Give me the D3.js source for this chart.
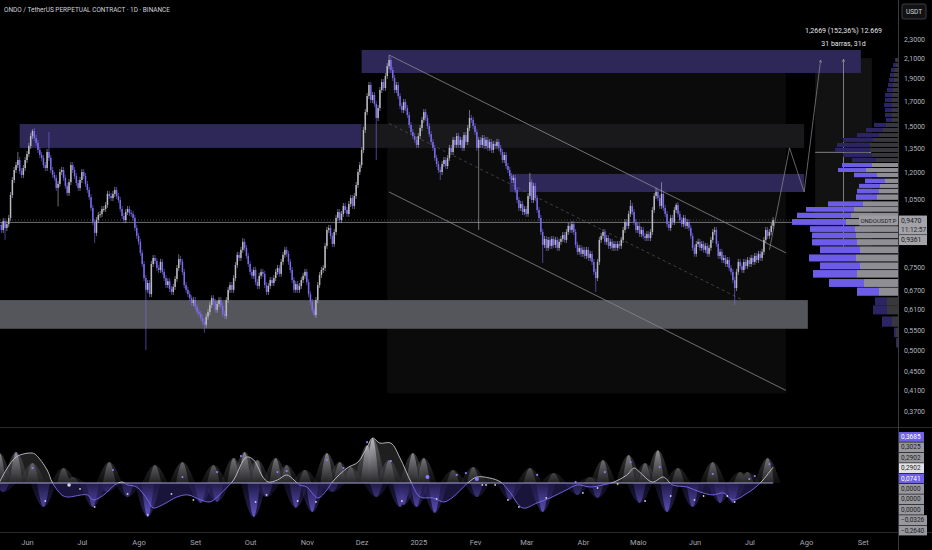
<!DOCTYPE html>
<html>
<head>
<meta charset="utf-8">
<script src="https://cdn.jsdelivr.net/npm/d3@7"></script>
<style>
html, body { margin: 0; background: #000; overflow: hidden; }
svg { display: block; font-family: Roboto, "DejaVu Sans", sans-serif; }
</style>
</head>
<body>
<svg id="chart" width="932" height="550"></svg>
<script>
// ---- data ----
const startDate = "2024-05-17";

// daily closes, ONDO/USDT perp (open = previous close)
const closes = [
  0.924,0.902,0.942,0.911,0.928,0.957,1.071,1.153,1.211,1.241,
  1.272,1.205,1.182,1.223,1.272,1.310,1.363,1.431,1.467,1.417,
  1.384,1.336,1.304,1.285,1.241,1.223,1.323,1.285,1.211,1.182,
  1.165,1.109,1.131,1.199,1.211,1.165,1.120,1.082,1.141,1.241,
  1.211,1.176,1.136,1.109,1.153,1.199,1.176,1.131,1.098,1.060,
  1.005,0.938,0.889,0.947,0.971,0.975,1.000,1.000,1.020,1.077,
  1.066,1.055,1.077,1.098,1.066,1.045,1.000,0.966,0.947,0.985,
  1.000,0.980,0.976,0.957,0.911,0.876,0.851,0.806,0.763,0.712,
  0.672,0.695,0.658,0.763,0.786,0.774,0.748,0.741,0.771,0.734,
  0.712,0.688,0.701,0.675,0.665,0.682,0.709,0.748,0.782,0.771,
  0.734,0.688,0.672,0.658,0.645,0.630,0.639,0.618,0.603,0.597,
  0.586,0.575,0.566,0.589,0.603,0.624,0.645,0.633,0.609,0.627,
  0.639,0.621,0.597,0.591,0.639,0.672,0.688,0.672,0.712,0.759,
  0.798,0.786,0.818,0.851,0.826,0.794,0.763,0.734,0.720,0.741,
  0.698,0.685,0.720,0.734,0.727,0.688,0.665,0.685,0.705,0.695,
  0.712,0.734,0.748,0.727,0.771,0.798,0.818,0.802,0.771,0.741,
  0.705,0.672,0.691,0.672,0.685,0.705,0.720,0.734,0.698,0.658,
  0.633,0.609,0.594,0.639,0.688,0.723,0.741,0.748,0.834,0.902,
  0.911,0.876,0.842,0.893,0.957,0.985,0.947,0.976,1.015,0.995,
  0.976,1.025,1.055,1.015,1.066,1.125,1.199,1.241,1.336,1.474,
  1.610,1.742,1.839,1.708,1.751,1.675,1.564,1.642,1.794,1.866,
  1.812,1.922,2.018,2.079,1.980,1.903,1.794,1.839,1.742,1.659,
  1.626,1.691,1.642,1.587,1.511,1.460,1.431,1.404,1.370,1.431,
  1.489,1.549,1.610,1.564,1.503,1.445,1.390,1.350,1.285,1.247,
  1.211,1.199,1.247,1.272,1.235,1.285,1.350,1.323,1.404,1.370,
  1.431,1.370,1.404,1.350,1.438,1.390,1.489,1.564,1.549,1.503,
  1.460,1.350,1.404,1.370,1.417,1.363,1.404,1.350,1.390,1.336,
  1.377,1.363,1.390,1.350,1.323,1.272,1.304,1.235,1.211,1.176,
  1.153,1.165,1.098,1.045,1.005,1.025,0.985,1.000,0.976,1.066,
  1.141,1.045,1.120,1.055,0.995,0.957,0.893,0.838,0.863,0.826,
  0.859,0.834,0.863,0.838,0.859,0.826,0.851,0.863,0.880,0.859,
  0.893,0.920,0.902,0.928,0.893,0.838,0.810,0.826,0.802,0.818,
  0.794,0.818,0.786,0.802,0.771,0.734,0.712,0.771,0.859,0.876,
  0.893,0.851,0.867,0.834,0.851,0.826,0.842,0.826,0.842,0.834,
  0.859,0.902,0.938,0.920,0.976,1.015,0.985,0.938,0.902,0.920,
  0.884,0.902,0.876,0.867,0.884,0.867,0.893,0.995,1.066,1.087,
  1.055,1.015,1.077,1.005,0.976,0.928,0.911,0.957,0.938,0.995,
  1.020,0.976,0.947,0.928,0.957,0.920,0.938,0.911,0.876,0.826,
  0.802,0.842,0.851,0.826,0.842,0.818,0.834,0.802,0.826,0.859,
  0.893,0.902,0.842,0.794,0.810,0.778,0.786,0.763,0.778,0.748,
  0.734,0.705,0.678,0.734,0.771,0.755,0.741,0.771,0.755,0.778,
  0.763,0.786,0.771,0.794,0.778,0.802,0.786,0.810,0.859,0.902,
  0.876,0.893,0.920,0.947
];

// long wicks: [day, high, low]
const wicks = [
  [3,null,0.859],[10,1.323,null],[18,1.48,null],[27,1.46,null],[32,null,1.013],
  [52,null,0.846],[80,null,0.50],[98,0.80,null],[112,null,0.544],[133,0.867,null],
  [172,null,0.59],[206,null,1.272],[213,2.13,null],[241,null,1.153],[257,1.626,null],
  [262,null,0.902],[290,1.194,null],[297,null,0.767],[326,null,0.665],[345,1.045,null],
  [359,1.11,null],[362,1.14,null],[370,1.03,null],[402,null,0.624]
];

const lastPrice = 0.947;
const levelLine = 0.9361;

const priceTicks = [2.3,2.1,1.9,1.7,1.5,1.35,1.2,1.05,0.75,0.67,0.61,0.55,0.5,0.45,0.41,0.37];

const monthDates = ["2024-06-01","2024-07-01","2024-08-01","2024-09-01","2024-10-01","2024-11-01","2024-12-01",
  "2025-01-01","2025-02-01","2025-03-01","2025-04-01","2025-05-01","2025-06-01","2025-07-01","2025-08-01","2025-09-01"];
const monthNames = ["Jun","Jul","Ago","Set","Out","Nov","Dez","2025","Fev","Mar","Abr","Maio","Jun","Jul","Ago","Set"];

const zones = [
  { from: "2024-12-01", to: "2025-08-31", top: 2.184, bottom: 1.951, kind: "supply" },
  { from: "2024-05-28", to: "2024-12-01", top: 1.518, bottom: 1.350, kind: "supply" },
  { from: "2024-12-01", to: "2025-07-31", top: 1.518, bottom: 1.350, kind: "mitigated" },
  { from: "2025-02-20", to: "2025-07-31", top: 1.188, bottom: 1.087, kind: "supply" },
  { from: "2024-05-16", to: "2025-08-02", top: 0.639, bottom: 0.555, kind: "support" }
];

const channelBox = { from: "2024-12-15", to: "2025-07-21", top: 1.951, bottom: 0.404 };
const channel = { from: "2024-12-16", to: "2025-07-21", upper: [2.131, 0.806], lower: [1.087, 0.410] };

const projection = [["2025-07-12",0.818],["2025-07-23",1.350],["2025-07-31",1.087],["2025-08-09",2.079]];

const measure = { from: "2025-08-06", to: "2025-09-06", low: 0.8315, high: 2.0984, tick: 0.0001 };

// visible range volume profile: row mid price, total volume, up (grey) part
const vpPrice = [0.518,0.545,0.575,0.609,0.635,0.666,0.695,0.727,0.756,0.786,0.818,0.849,0.878,0.906,0.938,
  0.969,0.998,1.025,1.06,1.092,1.12,1.148,1.182,1.211,1.241,1.272,1.304,1.336,1.370,1.404,1.438,1.474,
  1.511,1.549,1.587,1.626,1.667,1.708,1.751,1.794,1.839,1.885,1.932,1.980,2.029,2.079];
const vpTotal = [2,4,16,25,23,41,69,85,78,89,78,86,86,88,106,101,92,70,42,41,39,33,44,60,56,46,55,63,61,55,41,32,
  24,12,13,13,14,13,13,11,10,9,8,7,5,3];
const vpUp = [1,2,6,11,11,19,34,41,38,42,38,41,42,43,52,47,44,35,21,19,18,13,21,32,26,22,26,28,28,25,19,15,
  12,6,6,6,6,6,6,5,5,4,4,3,2,2];
const valueArea = [0.65, 1.26];

// oscillator: smoothed line [day, value]
const oscLine = [[0,0.008],[9,0.213],[18,0.246],[20,0.230],[26,0.107],[29,0],[34,-0.098],[37,-0.115],[48,-0.098],
  [51,-0.139],[57,-0.098],[63,-0.016],[67,0.008],[70,-0.016],[75,-0.033],[81,-0.139],[84,-0.205],[89,-0.180],
  [97,-0.115],[103,-0.098],[110,-0.139],[115,-0.156],[119,-0.115],[124,-0.041],[128,0.025],[135,0.213],[139,0.189],
  [144,0.049],[147,0.008],[152,0.025],[157,0.066],[161,0.025],[164,-0.016],[168,-0.033],[174,-0.123],[179,-0.057],
  [182,0.008],[190,0.123],[196,0.172],[201,0.295],[204,0.369],[208,0.328],[214,0.328],[219,0.205],[225,0.008],
  [230,-0.115],[237,-0.123],[243,-0.156],[248,-0.115],[256,0],[261,0.049],[268,0.041],[274,0.008],[279,-0.074],
  [286,-0.205],[294,-0.164],[301,-0.123],[310,-0.057],[316,-0.016],[323,-0.033],[330,-0.016],[336,0.008],
  [343,0.066],[347,0.123],[350,0.090],[357,0.008],[363,0.049],[368,-0.016],[376,-0.033],[383,-0.074],[390,-0.098],
  [396,-0.082],[401,-0.139],[409,-0.082],[416,0],[423,0.131]];

// oscillator spikes [day, value]
const oscUp = [[0,0.246],[9,0.254],[18,0.164],[35,0.123],[40,0.049],[60,0.172],[85,0.148],[100,0.172],[117,0.148],
  [128,0.205],[134,0.254],[141,0.189],[151,0.205],[157,0.148],[167,0.107],[179,0.246],[186,0.172],[192,0.131],
  [201,0.311],[204,0.369],[213,0.189],[226,0.246],[232,0.205],[248,0.107],[259,0.131],[290,0.123],[303,0.082],
  [323,0.049],[330,0.189],[344,0.230],[353,0.164],[360,0.270],[371,0.123],[390,0.172],[405,0.090],[409,0.090],[420,0.205]];
const oscDown = [[2,-0.074],[24,-0.197],[51,-0.197],[59,-0.074],[70,-0.115],[81,-0.279],[110,-0.164],[119,-0.156],
  [139,-0.279],[146,-0.115],[162,-0.205],[171,-0.238],[182,-0.074],[206,-0.115],[219,-0.197],[221,-0.180],[228,-0.197],
  [238,-0.246],[261,-0.115],[279,-0.139],[297,-0.238],[316,-0.098],[327,-0.123],[350,-0.164],[365,-0.238],
  [379,-0.197],[394,-0.164],[401,-0.164]];

const dotsHigh = [[9,0.230],[18,0.123],[62,0.107],[100,0.049],[119,0.090],[132,0.221],[152,0.090],[157,0.098],
  [179,0.189],[188,0.123],[201,0.336],[214,0.180],[250,0.066],[255,0.082],[294,0.066],[315,0.008],[331,0.090],
  [345,0.172],[361,0.131],[390,0.074],[410,0.033],[413,0.057],[421,0.156]];
const dotsLow = [[25,-0.148],[44,-0.049],[52,-0.197],[70,-0.090],[81,-0.262],[94,-0.090],[106,-0.139],[140,-0.156],
  [146,-0.098],[163,-0.148],[173,-0.156],[220,-0.148],[239,-0.131],[264,-0.016],[266,-0.016],[271,-0.016],
  [278,-0.139],[284,-0.197],[299,-0.123],[319,-0.082],[327,-0.041],[338,-0.008],[353,-0.148],[367,-0.107],
  [380,-0.139],[385,-0.107],[398,-0.107],[402,-0.156]];
const bigDotsHigh = [[234,0.049],[261,0.033]];
const bigDotsLow = [[38,-0.016]];

const oscLabels = [0.3685,0.3025,0.2902,0.2902,0.0741,0,0,0,-0.0326,-0.2640];
const oscLabelKind = ["purple","grey","grey","white","purple","grey","grey","grey","grey","grey"];

// ---- layout ----
const AXIS_X = 898;
const PRICE_H = 427;
const OSC_TOP = 428, OSC_BOT = 532;

const parse = d3.utcParse("%Y-%m-%d");
const start = parse(startDate);
const loc = d3.formatLocale({ decimal: ",", thousands: ".", grouping: [3], currency: ["", ""] });
const fmt4 = loc.format(".4f");

const x = d3.scaleUtc()
  .domain([parse("2024-06-01"), parse("2025-08-01")])
  .range([27, 806]);
const dayX = d => x(new Date(start.getTime() + d * 864e5));

const y = d3.scaleLog().domain([0.5, 2.1]).range([350, 58]);
const yo = d3.scaleLinear().domain([0, 0.37]).range([483, 438]);

const svg = d3.select("#chart");
const defs = svg.append("defs");

defs.append("clipPath").attr("id", "pricePane")
  .append("rect").attr("x", 0).attr("y", 0).attr("width", AXIS_X).attr("height", PRICE_H);
defs.append("clipPath").attr("id", "oscPane")
  .append("rect").attr("x", 0).attr("y", OSC_TOP).attr("width", AXIS_X).attr("height", OSC_BOT - OSC_TOP);
defs.append("clipPath").attr("id", "aboveZero")
  .append("rect").attr("x", 0).attr("y", OSC_TOP).attr("width", AXIS_X).attr("height", yo(0) - OSC_TOP);
defs.append("clipPath").attr("id", "belowZero")
  .append("rect").attr("x", 0).attr("y", yo(0)).attr("width", AXIS_X).attr("height", OSC_BOT - yo(0));

const gUp = defs.append("linearGradient").attr("id", "gUp")
  .attr("gradientUnits", "userSpaceOnUse").attr("x1", 0).attr("x2", 0).attr("y1", yo(0.34)).attr("y2", yo(0));
gUp.append("stop").attr("offset", 0).attr("stop-color", "#c4c4ca");
gUp.append("stop").attr("offset", 1).attr("stop-color", "#262629");
const gDn = defs.append("linearGradient").attr("id", "gDn")
  .attr("gradientUnits", "userSpaceOnUse").attr("x1", 0).attr("x2", 0).attr("y1", yo(0)).attr("y2", yo(-0.28));
gDn.append("stop").attr("offset", 0).attr("stop-color", "#221d4d");
gDn.append("stop").attr("offset", 1).attr("stop-color", "#7364ea");

const arrow = defs.append("marker").attr("id", "arr")
  .attr("viewBox", "0 0 8 8").attr("refX", 7).attr("refY", 4)
  .attr("markerWidth", 5).attr("markerHeight", 5).attr("orient", "auto");
arrow.append("path").attr("d", "M1,1 L7,4 L1,7").attr("fill", "none").attr("stroke", "#a0a0a0").attr("stroke-width", 1.2);

svg.append("rect").attr("width", 932).attr("height", 550).attr("fill", "#000");

// ---- price pane ----
const pane = svg.append("g").attr("clip-path", "url(#pricePane)");

// channel background and measure box
pane.append("rect")
  .attr("x", x(parse(channelBox.from))).attr("y", y(channelBox.top))
  .attr("width", x(parse(channelBox.to)) - x(parse(channelBox.from)))
  .attr("height", y(channelBox.bottom) - y(channelBox.top))
  .attr("fill", "#0b0b0c");
pane.append("rect")
  .attr("x", x(parse(measure.from))).attr("y", y(measure.high))
  .attr("width", x(parse(measure.to)) - x(parse(measure.from)))
  .attr("height", y(measure.low) - y(measure.high))
  .attr("fill", "#121213");

const zoneFill = { supply: "#2e2859", mitigated: "#19191b", support: "#55565b" };
pane.selectAll("rect.zone").data(zones).enter().append("rect")
  .attr("class", "zone")
  .attr("x", d => x(parse(d.from)))
  .attr("y", d => y(d.top))
  .attr("width", d => x(parse(d.to)) - x(parse(d.from)))
  .attr("height", d => y(d.bottom) - y(d.top))
  .attr("fill", d => zoneFill[d.kind]);

// horizontal levels
pane.append("line").attr("x1", 0).attr("x2", AXIS_X)
  .attr("y1", y(levelLine)).attr("y2", y(levelLine))
  .attr("stroke", "#8d8d92").attr("stroke-width", 0.8);
pane.append("line").attr("x1", 0).attr("x2", AXIS_X)
  .attr("y1", y(lastPrice)).attr("y2", y(lastPrice))
  .attr("stroke", "#5a5a60").attr("stroke-width", 0.7).attr("stroke-dasharray", "1,2");

// trend channel
const cx1 = x(parse(channel.from)), cx2 = x(parse(channel.to));
pane.append("line").attr("x1", cx1).attr("x2", cx2)
  .attr("y1", y(channel.upper[0])).attr("y2", y(channel.upper[1]))
  .attr("stroke", "#8a8a90").attr("stroke-width", 0.8);
pane.append("line").attr("x1", cx1).attr("x2", cx2)
  .attr("y1", y(channel.lower[0])).attr("y2", y(channel.lower[1]))
  .attr("stroke", "#8a8a90").attr("stroke-width", 0.8);
pane.append("line").attr("x1", cx1).attr("x2", cx2)
  .attr("y1", y(Math.sqrt(channel.upper[0] * channel.lower[0])))
  .attr("y2", y(Math.sqrt(channel.upper[1] * channel.lower[1])))
  .attr("stroke", "#55555a").attr("stroke-width", 0.7).attr("stroke-dasharray", "3,3");

// candles
const wickMap = new Map(wicks.map(w => [w[0], w]));
const candles = closes.map((c, i) => {
  const o = i > 0 ? closes[i - 1] : c;
  const w = wickMap.get(i);
  return {
    date: d3.utcDay.offset(start, i), o, c,
    hi: w && w[1] != null ? w[1] : null,
    lo: w && w[2] != null ? w[2] : null
  };
});
const UP = "#b9b9c2", DOWN = "#7a6cf0";
const cg = pane.append("g");
cg.selectAll("line").data(candles).enter().append("line")
  .attr("x1", d => x(d.date)).attr("x2", d => x(d.date))
  .attr("y1", d => d.hi != null ? y(d.hi) : y(Math.max(d.o, d.c)) - 3)
  .attr("y2", d => d.lo != null ? y(d.lo) : y(Math.min(d.o, d.c)) + 3)
  .attr("stroke", d => d.c >= d.o ? UP : DOWN)
  .attr("stroke-width", 0.6);
cg.selectAll("rect").data(candles).enter().append("rect")
  .attr("x", d => x(d.date) - 0.75)
  .attr("width", 1.5)
  .attr("y", d => y(Math.max(d.o, d.c)))
  .attr("height", d => Math.max(1, y(Math.min(d.o, d.c)) - y(Math.max(d.o, d.c))))
  .attr("fill", d => d.c >= d.o ? UP : DOWN);

// projected path
pane.append("path")
  .datum(projection)
  .attr("d", d3.line().x(d => x(parse(d[0]))).y(d => y(d[1])))
  .attr("fill", "none").attr("stroke", "#8c8c92").attr("stroke-width", 0.7)
  .attr("marker-end", "url(#arr)");

// measure arrows
const mx1 = x(parse(measure.from)), mx2 = x(parse(measure.to));
const mMidX = (mx1 + mx2) / 2, mMidY = (y(measure.low) + y(measure.high)) / 2;
pane.append("line").attr("x1", mMidX).attr("x2", mMidX)
  .attr("y1", y(measure.low)).attr("y2", y(measure.high) + 1)
  .attr("stroke", "#9a9aa0").attr("stroke-width", 0.8).attr("marker-end", "url(#arr)");
pane.append("line").attr("x1", mx1).attr("x2", mx2 - 1)
  .attr("y1", mMidY).attr("y2", mMidY)
  .attr("stroke", "#9a9aa0").attr("stroke-width", 0.8).attr("marker-end", "url(#arr)");

const delta = measure.high - measure.low;
const bars = d3.utcDay.count(parse(measure.from), parse(measure.to));
svg.append("text").attr("x", mMidX).attr("y", 33).attr("text-anchor", "middle")
  .attr("fill", "#e4e4e8").attr("font-size", 7)
  .text(`${fmt4(delta)} (${loc.format(".2f")(delta / measure.low * 100)}%) ${loc.format(",")(Math.round(delta / measure.tick))}`);
svg.append("text").attr("x", mMidX).attr("y", 46).attr("text-anchor", "middle")
  .attr("fill", "#e4e4e8").attr("font-size", 7)
  .text(`${bars} barras, ${bars}d`);

// volume profile
const vpW = d3.scaleLinear().domain([0, 106]).range([0, 106]);
const vp = vpPrice.map((p, i) => {
  const yA = y(vpPrice[Math.max(0, i - 1)]), yB = y(vpPrice[Math.min(vpPrice.length - 1, i + 1)]);
  const span = (i === 0 || i === vpPrice.length - 1) ? Math.abs(yA - yB) : Math.abs(yA - yB) / 2;
  return { p, total: vpTotal[i], up: vpUp[i], h: Math.max(2, span - 1),
    inVA: p >= valueArea[0] && p <= valueArea[1] };
});
const vg = pane.append("g");
vg.selectAll("rect.vpd").data(vp).enter().append("rect").attr("class", "vpd")
  .attr("x", d => AXIS_X - vpW(d.total)).attr("width", d => vpW(d.total - d.up))
  .attr("y", d => y(d.p) - d.h / 2).attr("height", d => d.h)
  .attr("fill", d => d.inVA ? "#6c5ce7" : "#2b2563");
vg.selectAll("rect.vpu").data(vp).enter().append("rect").attr("class", "vpu")
  .attr("x", d => AXIS_X - vpW(d.up)).attr("width", d => vpW(d.up))
  .attr("y", d => y(d.p) - d.h / 2).attr("height", d => d.h)
  .attr("fill", d => d.inVA ? "#8e8e94" : "#38383c");

// ---- oscillator pane ----
const og = svg.append("g").attr("clip-path", "url(#oscPane)");
const spike = d3.area().x(d => dayX(d[0])).y0(yo(0)).y1(d => yo(d[1])).curve(d3.curveMonotoneX);
const oscArea = d3.area().x(d => dayX(d[0])).y0(yo(0)).y1(d => yo(d[1])).curve(d3.curveCatmullRom);
const oscPath = d3.line().x(d => dayX(d[0])).y(d => yo(d[1])).curve(d3.curveCatmullRom);

og.append("path").datum(oscLine).attr("d", oscArea).attr("fill", "#9a9aa0").attr("opacity", 0.2)
  .attr("clip-path", "url(#aboveZero)");
og.append("path").datum(oscLine).attr("d", oscArea).attr("fill", "#5a4cd0").attr("opacity", 0.28)
  .attr("clip-path", "url(#belowZero)");

[[7, 0.35], [3.5, 0.8]].forEach(([w, op]) => {
  og.selectAll(null).data(oscUp).enter().append("path")
    .attr("d", d => spike([[d[0] - w, 0], [d[0], d[1]], [d[0] + w, 0]]))
    .attr("fill", "url(#gUp)").attr("opacity", op);
  og.selectAll(null).data(oscDown).enter().append("path")
    .attr("d", d => spike([[d[0] - w, 0], [d[0], d[1]], [d[0] + w, 0]]))
    .attr("fill", "url(#gDn)").attr("opacity", op);
});

og.append("line").attr("x1", dayX(0)).attr("x2", dayX(closes.length - 1))
  .attr("y1", yo(0)).attr("y2", yo(0)).attr("stroke", "#a9a3de").attr("stroke-width", 1);

og.append("path").datum(oscLine).attr("d", oscPath).attr("fill", "none")
  .attr("stroke", "#c4c4ca").attr("stroke-width", 0.9).attr("clip-path", "url(#aboveZero)");
og.append("path").datum(oscLine).attr("d", oscPath).attr("fill", "none")
  .attr("stroke", "#7a6cf0").attr("stroke-width", 0.9).attr("clip-path", "url(#belowZero)");

og.selectAll("circle.dh").data(dotsHigh).enter().append("circle").attr("class", "dh")
  .attr("cx", d => dayX(d[0])).attr("cy", d => yo(d[1])).attr("r", 1.1).attr("fill", "#8b7dff");
og.selectAll("circle.dl").data(dotsLow).enter().append("circle").attr("class", "dl")
  .attr("cx", d => dayX(d[0])).attr("cy", d => yo(d[1])).attr("r", 0.9).attr("fill", "#d8d8dc");
og.selectAll("circle.bh").data(bigDotsHigh).enter().append("circle").attr("class", "bh")
  .attr("cx", d => dayX(d[0])).attr("cy", d => yo(d[1])).attr("r", 2).attr("fill", "#8b7dff");
og.selectAll("circle.bl").data(bigDotsLow).enter().append("circle").attr("class", "bl")
  .attr("cx", d => dayX(d[0])).attr("cy", d => yo(d[1])).attr("r", 1.8).attr("fill", "#d8d8dc");

// ---- frame lines ----
svg.append("line").attr("x1", 0).attr("x2", 932).attr("y1", PRICE_H + 0.5).attr("y2", PRICE_H + 0.5)
  .attr("stroke", "#2a2a2e");
svg.append("line").attr("x1", 0).attr("x2", 932).attr("y1", OSC_BOT + 0.5).attr("y2", OSC_BOT + 0.5)
  .attr("stroke", "#2a2a2e");
svg.append("line").attr("x1", AXIS_X + 0.5).attr("x2", AXIS_X + 0.5).attr("y1", 0).attr("y2", 550)
  .attr("stroke", "#3a3a3e");

// ---- axes ----
const priceAxis = svg.append("g").attr("transform", `translate(${AXIS_X + 4},0)`)
  .call(d3.axisRight(y).tickValues(priceTicks).tickFormat(fmt4).tickSize(0).tickPadding(2));
priceAxis.select(".domain").remove();
priceAxis.selectAll("text").attr("fill", "#b2b5be").attr("font-size", 7)
  .attr("font-family", "Roboto, sans-serif");

const timeAxis = svg.append("g").attr("transform", `translate(0,${OSC_BOT + 5})`)
  .call(d3.axisBottom(x).tickValues(monthDates.map(parse))
    .tickFormat((d, i) => monthNames[i]).tickSize(0).tickPadding(3));
timeAxis.select(".domain").remove();
timeAxis.selectAll("text").attr("fill", "#a3a6af").attr("font-size", 7.5)
  .attr("font-family", "Roboto, sans-serif");

// ---- labels ----
svg.append("text").attr("x", 4).attr("y", 12).attr("fill", "#cfd2da").attr("font-size", 7.5)
  .attr("textLength", 166).attr("lengthAdjust", "spacingAndGlyphs")
  .text("ONDO / TetherUS PERPETUAL CONTRACT · 1D · BINANCE");

svg.append("rect").attr("x", 902).attr("y", 4).attr("width", 24).attr("height", 15).attr("rx", 2)
  .attr("fill", "#121214").attr("stroke", "#4a4a50").attr("stroke-width", 0.8);
svg.append("text").attr("x", 914).attr("y", 11.5).attr("text-anchor", "middle")
  .attr("dominant-baseline", "central").attr("fill", "#d1d4dc").attr("font-size", 6.5).text("USDT");

const yLast = y(lastPrice);
svg.append("rect").attr("x", 859).attr("y", yLast - 4.5).attr("width", 39).attr("height", 10)
  .attr("fill", "#9c9ca2").attr("rx", 1);
svg.append("text").attr("x", 878.5).attr("y", yLast + 0.5).attr("text-anchor", "middle")
  .attr("dominant-baseline", "central").attr("fill", "#202024").attr("font-size", 6).text("ONDOUSDT.P");
svg.append("rect").attr("x", 899).attr("y", yLast - 4.5).attr("width", 28).attr("height", 19)
  .attr("fill", "#a3a3a9");
svg.append("text").attr("x", 901).attr("y", yLast + 0.5).attr("dominant-baseline", "central")
  .attr("fill", "#1c1c20").attr("font-size", 6.8).text(fmt4(lastPrice));
svg.append("text").attr("x", 901).attr("y", yLast + 9.5).attr("dominant-baseline", "central")
  .attr("fill", "#2a2a30").attr("font-size", 6.5).text("11:12:57");
svg.append("rect").attr("x", 899).attr("y", yLast + 15).attr("width", 28).attr("height", 10)
  .attr("fill", "#a3a3a9");
svg.append("text").attr("x", 901).attr("y", yLast + 20).attr("dominant-baseline", "central")
  .attr("fill", "#1c1c20").attr("font-size", 6.8).text(fmt4(levelLine));

// oscillator value labels, stacked as the platform does
const oscFill = { purple: "#6f60e8", grey: "#98989e", white: "#e2e2e6" };
const oscText = { purple: "#ffffff", grey: "#1e1e22", white: "#1e1e22" };
const ol = svg.selectAll("g.ol").data(oscLabels).enter().append("g").attr("class", "ol")
  .attr("transform", (d, i) => `translate(899,${432 + i * 10.4})`);
ol.append("rect").attr("width", d => d < 0 ? 28 : 25).attr("height", 9.8)
  .attr("fill", (d, i) => oscFill[oscLabelKind[i]]);
ol.append("text").attr("x", 2).attr("y", 5).attr("dominant-baseline", "central")
  .attr("font-size", 6.5).attr("fill", (d, i) => oscText[oscLabelKind[i]])
  .text(d => fmt4(d).replace("-", "−"));
</script>
</body>
</html>
